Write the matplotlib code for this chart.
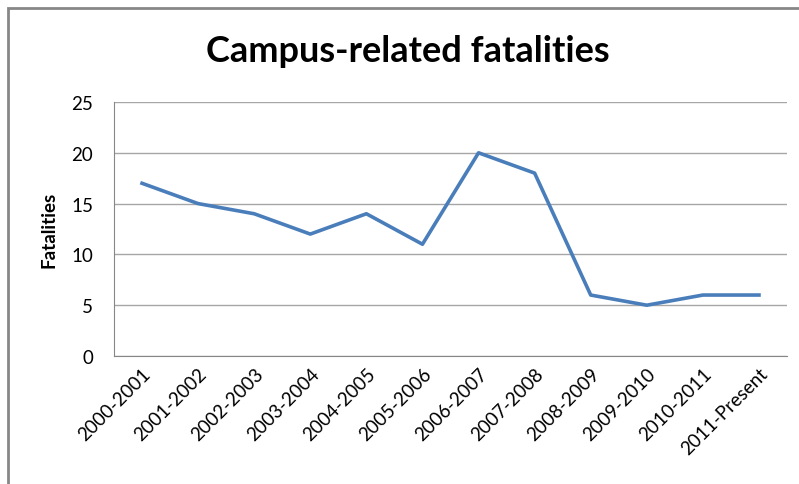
import matplotlib
matplotlib.use("Agg")
import matplotlib.pyplot as plt
from matplotlib.patches import Rectangle

periods = ['2000-2001', '2001-2002', '2002-2003', '2003-2004', '2004-2005',
           '2005-2006', '2006-2007', '2007-2008', '2008-2009', '2009-2010',
           '2010-2011', '2011-Present']
fatalities = [17, 15, 14, 12, 14, 11, 20, 18, 6, 5, 6, 6]

plt.rcParams['font.family'] = ['Lato', 'DejaVu Sans']

fig = plt.figure(figsize=(7.99, 4.85), dpi=100)
ax = fig.add_axes([114 / 799, 1 - 357 / 485, (787 - 114) / 799, (357 - 103) / 485])

# chart area border (cropped at right and bottom like the source)
fig.patches.append(Rectangle((8 / 799, -0.1), 1.1, 1 - 9 / 485 + 0.1,
                             transform=fig.transFigure, fill=False,
                             edgecolor='#878787', linewidth=2, clip_on=False))

x = list(range(len(periods)))
ax.plot(x, fatalities, color='#4A7EBB', linewidth=2.6, solid_joinstyle='round')

ax.set_xlim(-0.5, len(periods) - 0.5)
ax.set_ylim(0, 25)
ax.set_yticks([0, 5, 10, 15, 20, 25])
ax.set_xticks(x)
ax.set_xticklabels(periods, rotation=45, ha='right', rotation_mode='anchor', fontsize=13.5)
ax.tick_params(axis='y', labelsize=13.5, length=0, pad=15)
ax.tick_params(axis='x', length=0, pad=6)

ax.grid(axis='y', color='#A6A6A6', linewidth=1)
ax.set_axisbelow(True)
for side in ['top', 'right']:
    ax.spines[side].set_visible(False)
ax.spines['left'].set_color('#878787')
ax.spines['bottom'].set_color('#878787')

ax.set_ylabel('Fatalities', fontsize=13.5, fontweight='bold', labelpad=10)
fig.text(408 / 799, 1 - 52 / 485, 'Campus-related fatalities', ha='center', va='center',
         fontsize=26, fontweight='bold')

fig.savefig('out.png', dpi=100)
